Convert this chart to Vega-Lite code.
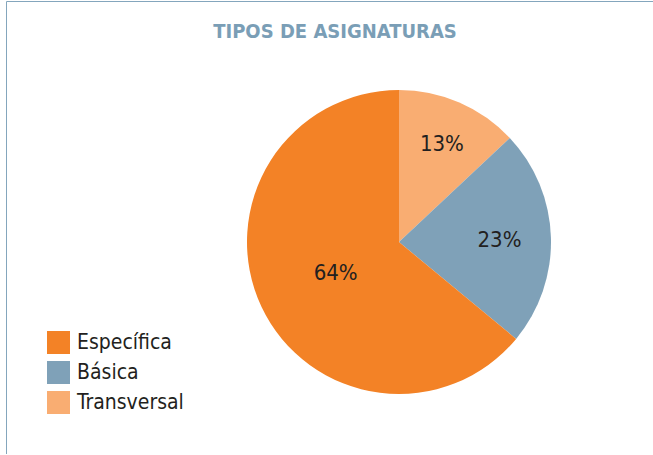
{
  "$schema": "https://vega.github.io/schema/vega-lite/v6.json",
  "width": 786,
  "height": 453,
  "autosize": {"type": "none"},
  "padding": {"left": 6, "top": 1, "right": 0, "bottom": 0},
  "background": "white",
  "view": {"stroke": "#84A6BD", "strokeWidth": 1, "fill": "white"},
  "config": {
    "font": "DejaVu Sans Condensed"
  },
  "title": {
    "text": "TIPOS DE ASIGNATURAS",
    "font": "DejaVu Sans Condensed",
    "fontSize": 20,
    "fontWeight": "bold",
    "color": "#7A9EB6",
    "anchor": "middle",
    "frame": "group",
    "dx": -64,
    "offset": -41
  },
  "data": {
    "values": [
      {"tipo": "Transversal", "valor": 13, "orden": 1, "etiqueta": "13%"},
      {"tipo": "Básica", "valor": 23, "orden": 2, "etiqueta": "23%"},
      {"tipo": "Específica", "valor": 64, "orden": 3, "etiqueta": "64%"}
    ]
  },
  "layer": [
    {
      "mark": {"type": "arc", "radius": 152, "yOffset": 14.5},
      "encoding": {
        "theta": {"field": "valor", "type": "quantitative", "stack": true},
        "order": {"field": "orden", "type": "quantitative"},
        "color": {
          "field": "tipo",
          "type": "nominal",
          "scale": {
            "domain": ["Específica", "Básica", "Transversal"],
            "range": ["#F38226", "#7FA1B8", "#F9AD72"]
          },
          "legend": {
            "orient": "none",
            "legendX": 41,
            "legendY": 330,
            "title": null,
            "symbolType": "square",
            "symbolSize": 529,
            "symbolStrokeWidth": 0,
            "symbolOpacity": 1,
            "labelFontSize": 21,
            "labelFont": "DejaVu Sans Condensed",
            "labelColor": "#231F20",
            "labelOffset": 7,
            "rowPadding": 7,
            "padding": 0,
            "labelLimit": 0
          }
        }
      }
    },
    {
      "mark": {"type": "text", "yOffset": 16, "fontSize": 22, "color": "#231F20", "font": "DejaVu Sans Condensed"},
      "encoding": {
        "theta": {"field": "valor", "type": "quantitative", "stack": true},
        "order": {"field": "orden", "type": "quantitative"},
        "radius": {
          "field": "valor",
          "type": "quantitative",
          "scale": {"type": "linear", "zero": false, "domain": [13, 64], "range": [108, 70]}
        },
        "text": {"field": "etiqueta", "type": "nominal"}
      }
    }
  ]
}
